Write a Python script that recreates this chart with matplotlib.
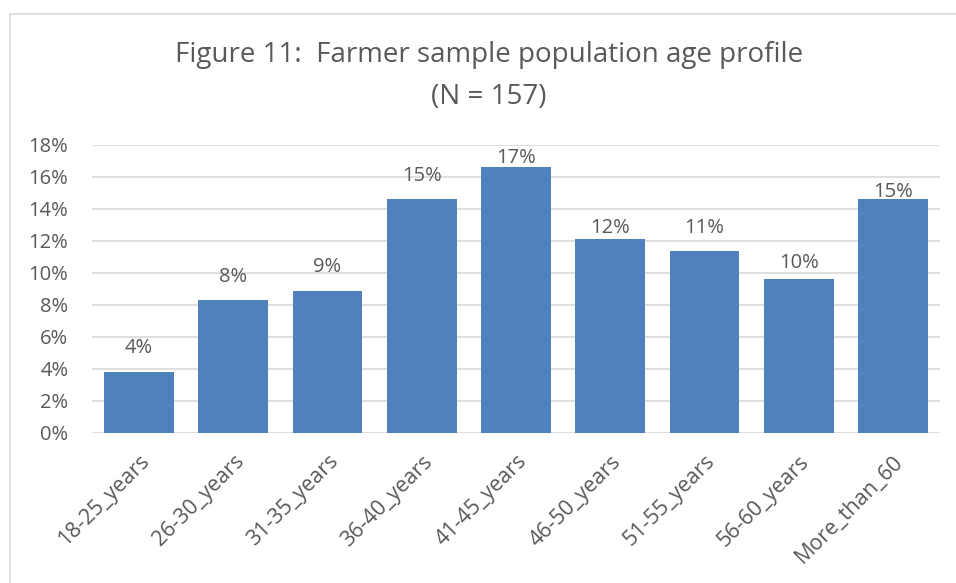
import numpy as np
import matplotlib
matplotlib.use("Agg")
import matplotlib.pyplot as plt
import matplotlib.transforms as mtransforms
from matplotlib.patches import Rectangle

plt.rcParams['font.family'] = ['Open Sans', 'DejaVu Sans']

# age groups and share of sample (%)
ageGroups = ['18-25_years', '26-30_years', '31-35_years', '36-40_years', '41-45_years',
             '46-50_years', '51-55_years', '56-60_years', 'More_than_60']
shares = [3.8, 8.3, 8.9, 14.6, 16.6, 12.1, 11.4, 9.6, 14.6]
yTicks = [0, 2, 4, 6, 8, 10, 12, 14, 16, 18]

# gap between bar top and label baseline, in points (as placed in the original)
labelGaps = [13.5, 13, 13.5, 13, 3.5, 4.3, 13, 8, 1.4]

textColor = '#595959'
barColor = '#4F81BD'
gridColor = '#D9D9D9'

fig = plt.figure(figsize=(9.56, 5.83), dpi=100)
ax = fig.add_axes([92/956, 1 - 433/583, 848/956, 288/583])

x = np.arange(len(ageGroups))
bars = ax.bar(x, shares, width=0.74, color=barColor, zorder=3)
for b, v, g in zip(bars, shares, labelGaps):
    ax.annotate('{:.0f}%'.format(v), (b.get_x() + b.get_width()/2, v), xytext=(0, g),
                textcoords='offset points', ha='center', va='baseline', fontsize=14.5, color=textColor)

ax.set_xlim(-0.5, len(ageGroups) - 0.5)
ax.set_ylim(0, 18)
ax.set_yticks(yTicks)
ax.set_yticklabels(['{}%'.format(t) for t in yTicks], fontsize=14.5, color=textColor)
ax.set_xticks(x)
ax.set_xticklabels(ageGroups, rotation=45, ha='right', rotation_mode='anchor', fontsize=15.5, color=textColor)
shift = mtransforms.ScaledTranslation(-5/100, 0, fig.dpi_scale_trans)
for lbl in ax.get_xticklabels():
    lbl.set_transform(lbl.get_transform() + shift)
ax.tick_params(axis='both', length=0)
ax.tick_params(axis='y', pad=17)
ax.tick_params(axis='x', pad=13)
ax.grid(axis='y', color=gridColor, linewidth=1.2, zorder=0)
for s in ax.spines.values():
    s.set_visible(False)

fig.text(489/956, 1 - 55/583, 'Figure 11:  Farmer sample population age profile', ha='center', va='center',
         fontsize=20, color=textColor)
fig.text(489/956, 1 - 97/583, '(N = 157)', ha='center', va='center', fontsize=20, color=textColor)

# chart border
fig.patches.append(Rectangle((10/956, -0.1), 1.1, 1 - 14/583 + 0.1, transform=fig.transFigure,
                             fill=False, edgecolor='#D9D9D9', linewidth=1.2))

fig.savefig('out.png', dpi=100)
